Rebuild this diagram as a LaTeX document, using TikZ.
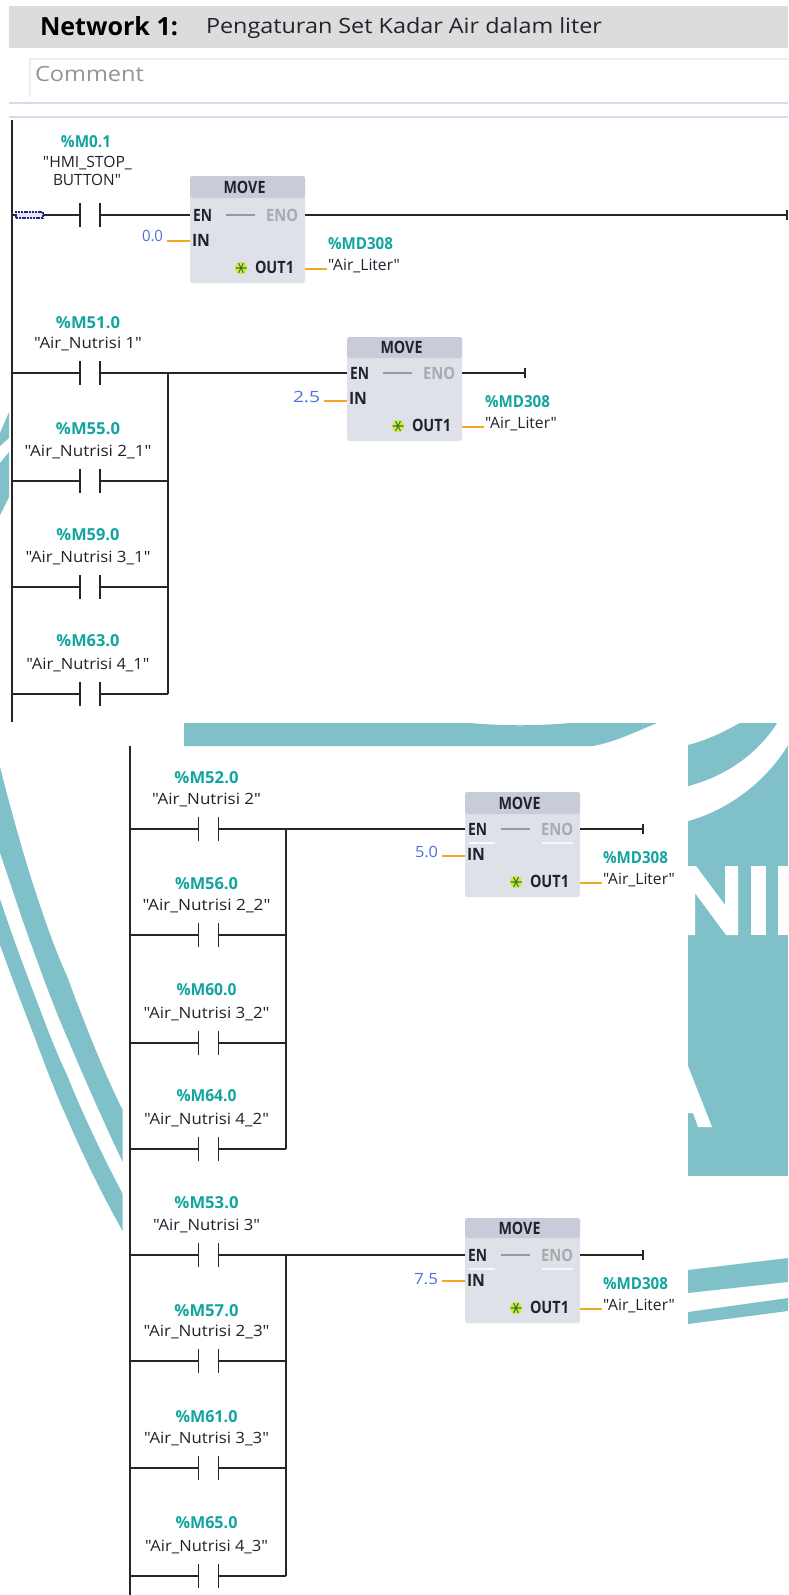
\documentclass[tikz,border=0pt]{standalone}
\usepackage{fontspec}
\setmainfont{Open Sans}[Ligatures=TeXOff]
\usepackage{graphicx}
\definecolor{wm}{HTML}{80C1C9}
\definecolor{hdrgray}{HTML}{DCDCDC}
\definecolor{sepl}{HTML}{D9D9EC}
\definecolor{addrc}{HTML}{12A5A0}
\definecolor{inkc}{HTML}{22222E}
\definecolor{wirec}{HTML}{262626}
\definecolor{valc}{HTML}{4F70D8}
\definecolor{enoc}{HTML}{A9A9AE}
\definecolor{pinw}{HTML}{F5A623}
\definecolor{boxbody}{HTML}{DFE1E9}
\definecolor{boxhead}{HTML}{C8CCD9}
\newcommand{\tw}[2]{\resizebox{#1pt}{\height}{#2}}
\tikzset{
  txt/.style={inner sep=0pt,outer sep=0pt,text depth=0pt},
  addrlab/.style={txt,text height=11.8pt,text=addrc,font=\fontsize{16.5}{18}\selectfont\bfseries},
  symlab/.style={txt,text height=11pt,text=inkc,font=\fontsize{15.5}{18}\selectfont},
  pinlab/.style={txt,text height=12.1pt,text=inkc,font=\fontsize{17}{18}\selectfont\bfseries},
  enolab/.style={txt,text height=12.1pt,text=enoc,font=\fontsize{17}{18}\selectfont\bfseries},
  vallab/.style={txt,text height=11pt,text=valc,font=\fontsize{15.5}{18}\selectfont},
  wire/.style={draw=wirec,line width=1.9pt},
  plate/.style={draw=wirec,line width=1.9pt},
  railw/.style={draw=wirec,line width=2.2pt},
  pinwire/.style={draw=pinw,line width=1.6pt},
  contactbox/.style={inner sep=0pt,outer sep=0pt,minimum width=20pt,minimum height=24pt},
  movebody/.style={inner sep=0pt,outer sep=0pt,fill=boxbody,rounded corners=2.5pt,anchor=north west},
  endtick/.style={draw=wirec,line width=1.6pt},
}
% contact only: name, contact centre x, y
\newcommand{\cplain}[3]{%
  \node[contactbox] (#1) at (#2,#3) {};
  \draw[plate] (#1.north west) -- (#1.south west);
  \draw[plate] (#1.north east) -- (#1.south east);
  \coordinate (#1-rail) at (\railx,#3);
  \coordinate (#1-bus) at (\busx,#3);
  \draw[wire] (#1-rail) -- (#1.west);
}
% row: name, contact centre x, y, address, address width, symbol, symbol width, address offset
\newcommand{\crow}[8]{%
  \cplain{#1}{#2}{#3}
  \node[addrlab] (#1-addr) at (#2-2,#3-#8) {\tw{#5}{#4}};
  \node[symlab] (#1-sym) at (#2-2,#3-30.5) {\tw{#7}{#6}};
}
% move box: name, X, rung y, value, value width, top, header bottom, value y offset, in-wire y offset
\newcommand{\movebox}[9]{%
  \node[movebody,minimum width=115pt,minimum height={#3+68-(#6)}] (#1) at (#2,#6) {};
  \path[fill=boxhead,rounded corners=2.5pt] (#2,#7) -- (#2,#6) -- (#2+115,#6) -- (#2+115,#7) -- cycle;
  \coordinate (#1-en) at (#2,#3);
  \coordinate (#1-eno) at (#2+115,#3);
  \coordinate (#1-in) at (#2,#3+#9);
  \coordinate (#1-instub) at (#2-23,#3+#9);
  \coordinate (#1-out) at (#2+115,#3+54);
  \coordinate (#1-outstub) at (#2+137,#3+54);
  \coordinate (#1-gl) at (#2+36,#3);
  \coordinate (#1-gr) at (#2+65,#3);
  \node[pinlab] (#1-title) at (#2+54.5,{(#6+#7)/2}) {\tw{42}{MOVE}};
  \node[pinlab,anchor=west] (#1-enl) at (#2+3,#3) {\tw{19}{EN}};
  \node[enolab,anchor=west] (#1-enol) at (#2+76,#3) {\tw{32}{ENO}};
  \node[pinlab,anchor=west] (#1-inl) at (#2+2,#3+25) {\tw{18}{IN}};
  \node[pinlab,anchor=west] (#1-outl) at (#2+65,#3+52) {\tw{39}{OUT1}};
  \node[vallab,anchor=east] (#1-val) at (#2-27,#3+#8) {\tw{#5}{#4}};
  \node[addrlab,anchor=west] (#1-addr) at (#2+138,#3+28.5) {\tw{65}{\%MD308}};
  \node[symlab,anchor=west] (#1-sym) at (#2+138,#3+49.5) {\tw{72}{"Air\_Liter"}};
  \draw[draw=enoc!90!black,line width=1.6pt] (#1-gl) -- (#1-gr);
  \draw[pinwire] (#1-instub) -- (#1-in);
  \draw[pinwire] (#1-out) -- (#1-outstub);
  \fill[yellow!80!green!80] (#2+51,#3+53) circle (6pt);
  \draw[green!35!black!80,line width=1.1pt] (#2+45.5,#3+53) -- (#2+56.5,#3+53) (#2+48.5,#3+48) -- (#2+53.5,#3+58) (#2+53.5,#3+48) -- (#2+48.5,#3+58);
}
\begin{document}
\begin{tikzpicture}[x=1pt,y=-1pt]
\useasboundingbox (0,0) rectangle (788,1595);
\fill[white] (0,0) rectangle (788,1595);
% ---- background watermark ----
\fill[wm] (0,433) -- (9,412) -- (9,438) -- (0,446) -- cycle;
\fill[wm] (0,463) -- (9,452) -- (9,497) -- (0,515) -- cycle;
\fill[wm] (184,723) -- (470,723) .. controls (505,726) and (535,726) .. (570,723) -- (657,723) .. controls (635,732) and (615,742) .. (593,746) -- (184,746) -- cycle;
\fill[wm] (688,723) rectangle (788,1176);
\fill[white] (688,723) -- (788,723) -- (788,745) .. controls (770,775) and (735,808) .. (688,821) -- (688,786) .. controls (730,775) and (760,750) .. (777,723) -- (740,723) .. controls (722,733) and (705,741) .. (688,745) -- cycle;
\fill[wm] (740,723) -- (777,723) .. controls (760,750) and (730,775) .. (688,786) -- (688,745) .. controls (705,741) and (722,733) .. (740,723) -- cycle;
\fill[white] (688,866) -- (696,866) -- (725,905) -- (725,866) -- (738,866) -- (738,935) -- (726,935) -- (695,893) -- (695,935) -- (688,935) -- cycle;
\fill[white] (751,866) rectangle (766,935);
\fill[white] (778,866) rectangle (788,935);
\fill[white] (688,1066) -- (712,1127) -- (698,1127) -- (693,1113) -- (688,1113) -- cycle;
\fill[wm] (688,1270) -- (788,1258) -- (788,1282) -- (688,1293) -- cycle;
\fill[wm] (688,1312) -- (788,1298) -- (788,1311) -- (688,1324) -- cycle;
\fill[wm] (0,767) .. controls (11,810) and (22,850) .. (33,884) .. controls (44,918) and (55,950) .. (67,976) .. controls (85,1025) and (105,1075) .. (122.7,1110) -- (122.7,1162) .. controls (105,1125) and (85,1080) .. (67,1037) .. controls (55,1010) and (44,980) .. (33,949) .. controls (22,920) and (11,885) .. (0,853) -- cycle;
\fill[wm] (0,899) .. controls (11,932) and (22,962) .. (33,991) .. controls (44,1020) and (55,1050) .. (67,1075) .. controls (85,1120) and (105,1160) .. (122.7,1194) -- (122.7,1231) .. controls (105,1200) and (85,1160) .. (67,1118) .. controls (55,1092) and (44,1062) .. (33,1033) .. controls (22,1005) and (11,975) .. (0,945) -- cycle;
% ---- header ----
\fill[hdrgray] (9,6) rectangle (788,48);
\node[txt,text height=18pt,anchor=west,text=black,font=\fontsize{25}{28}\selectfont\bfseries] (nettitle) at (40,27) {\tw{138}{Network 1:}};
\node[txt,text height=15pt,anchor=west,text=inkc,font=\fontsize{21}{24}\selectfont] (netdesc) at (206,26) {\tw{396}{Pengaturan Set Kadar Air dalam liter}};
\draw[draw=black!7,line width=1.2pt] (788,59) -- (30,59) -- (30,97);
\node[txt,text height=15pt,anchor=west,text=black!42,font=\fontsize{21}{24}\selectfont] (comment) at (35,74) {\tw{109}{Comment}};
\draw[draw=sepl,line width=2pt] (9,103) -- (788,103);
\draw[draw=sepl,line width=2pt] (9,117) -- (788,117);
% ---- upper part ----
\coordinate (railAtop) at (12,120);
\coordinate (railAbot) at (12,722);
\draw[railw] (railAtop) -- (railAbot);
% rung 1
\def\railx{12}\def\busx{168}
\cplain{c1}{90}{215}
\node[addrlab] (c1-addr) at (86,142) {\tw{50}{\%M0.1}};
\node[symlab] (c1-symA) at (87.5,162) {\tw{89}{"HMI\_STOP\_}};
\node[symlab] (c1-symB) at (87,180) {\tw{68}{BUTTON"}};
\node[inner sep=0pt,outer sep=0pt,minimum width=27pt,minimum height=6pt,fill=blue!10,draw=blue!40!black!85,dash pattern=on 2pt off 0.8pt,line width=1.4pt] (flag) at (29.5,215) {};
\movebox{m1}{190}{215}{0.0}{21}{176}{198}{21}{26}
\coordinate (end1) at (787,215);
\draw[wire] (c1.east) -- (m1-en);
\draw[wire] (m1-eno) -- (end1);
\draw[endtick] (787,210) -- (787,220);
% group 2
\crow{c21}{90}{373}{\%M51.0}{64}{"Air\_Nutrisi 1"}{108}{50}
\crow{c22}{90}{481}{\%M55.0}{64}{"Air\_Nutrisi 2\_1"}{127}{52}
\crow{c23}{90}{587}{\%M59.0}{63}{"Air\_Nutrisi 3\_1"}{125}{52}
\crow{c24}{90}{694}{\%M63.0}{63}{"Air\_Nutrisi 4\_1"}{123}{53}
\movebox{m2}{347}{373}{2.5}{27}{337}{358}{24}{28}
\coordinate (end2) at (525,373);
\draw[wire] (c21.east) -- (m2-en);
\draw[wire] (c22.east) -- (c22-bus);
\draw[wire] (c23.east) -- (c23-bus);
\draw[wire] (c24.east) -- (c24-bus);
\draw[railw] (c21-bus) -- (c24-bus);
\draw[wire] (m2-eno) -- (end2);
\draw[endtick] (525,368) -- (525,378);
% ---- lower part ----
\coordinate (railBtop) at (130,746);
\coordinate (railBbot) at (130,1595);
\draw[railw] (railBtop) -- (railBbot);
\def\railx{130}\def\busx{286}
\crow{c31}{208.5}{829}{\%M52.0}{64}{"Air\_Nutrisi 2"}{109}{51}
\crow{c32}{208.5}{935}{\%M56.0}{63}{"Air\_Nutrisi 2\_2"}{128}{51}
\crow{c33}{208.5}{1043}{\%M60.0}{60}{"Air\_Nutrisi 3\_2"}{126}{53}
\crow{c34}{208.5}{1149}{\%M64.0}{60}{"Air\_Nutrisi 4\_2"}{125}{53}
\movebox{m3}{465}{829}{5.0}{23}{792}{814}{23}{27}
\coordinate (end3) at (643,829);
\draw[wire] (c31.east) -- (m3-en);
\draw[wire] (c32.east) -- (c32-bus);
\draw[wire] (c33.east) -- (c33-bus);
\draw[wire] (c34.east) -- (c34-bus);
\draw[railw] (c31-bus) -- (c34-bus);
\draw[wire] (m3-eno) -- (end3);
\draw[endtick] (643,824) -- (643,834);
\draw[white!80!boxbody,line width=1.2pt] (469,843) -- (495,843) (542,843) -- (573,843);
\crow{c41}{208.5}{1255}{\%M53.0}{64}{"Air\_Nutrisi 3"}{107}{52}
\crow{c42}{208.5}{1361}{\%M57.0}{64}{"Air\_Nutrisi 2\_3"}{126}{50}
\crow{c43}{208.5}{1468}{\%M61.0}{62}{"Air\_Nutrisi 3\_3"}{125}{51}
\crow{c44}{208.5}{1576}{\%M65.0}{62}{"Air\_Nutrisi 4\_3"}{123}{53}
\movebox{m4}{465}{1255}{7.5}{24}{1218}{1238}{24}{26}
\coordinate (end4) at (643,1255);
\draw[wire] (c41.east) -- (m4-en);
\draw[wire] (c42.east) -- (c42-bus);
\draw[wire] (c43.east) -- (c43-bus);
\draw[wire] (c44.east) -- (c44-bus);
\draw[railw] (c41-bus) -- (c44-bus);
\draw[wire] (m4-eno) -- (end4);
\draw[endtick] (643,1250) -- (643,1260);
\draw[white!80!boxbody,line width=1.2pt] (469,1269) -- (495,1269) (542,1269) -- (573,1269);
\end{tikzpicture}
\end{document}
